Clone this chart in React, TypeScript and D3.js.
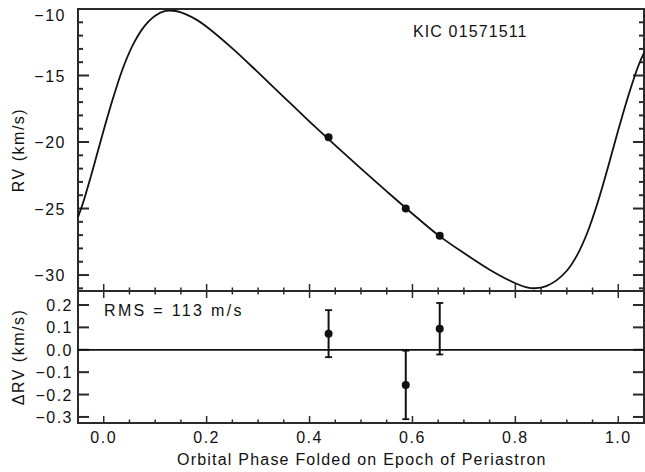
import React, { useRef, useEffect } from 'react'
import * as d3 from 'd3'

// model curve (phase, RV in km/s)
const modelPhase = [-0.05, -0.04, -0.02, 0.0, 0.02, 0.04, 0.06, 0.08, 0.1, 0.12, 0.14, 0.16, 0.18, 0.2, 0.25, 0.3, 0.35, 0.4, 0.45, 0.5, 0.55, 0.6, 0.65, 0.7, 0.75, 0.8, 0.82, 0.84, 0.86, 0.88, 0.9, 0.92, 0.94, 0.96, 0.98, 1.0, 1.02, 1.04, 1.05]
const modelRV = [-25.65, -24.55, -21.9, -19.1, -16.46, -14.17, -12.45, -11.25, -10.5, -10.15, -10.15, -10.4, -10.8, -11.33, -12.96, -14.77, -16.62, -18.46, -20.25, -22.0, -23.71, -25.39, -27.0, -28.35, -29.6, -30.62, -30.9, -30.99, -30.83, -30.4, -29.68, -28.5, -26.8, -24.55, -21.9, -19.1, -16.46, -14.17, -13.3]

// observations
const obsPhase = [0.437, 0.587, 0.653]
const obsRV = [-19.65, -25.0, -27.05]
const residual = [0.072, -0.157, 0.094]
const residualErr = [0.105, 0.153, 0.115]

// axes
const phaseTicks = [0, 0.2, 0.4, 0.6, 0.8, 1.0]
const rvTicks = [-30, -25, -20, -15, -10]
const dRvTicks = [0.2, 0.1, 0.0, -0.1, -0.2, -0.3]

const FONT = '"Liberation Sans", Arial, Helvetica, sans-serif'
const INK = '#111'
const FRAME = '#2a2a2a'

function App() {
    const svgRef = useRef<SVGSVGElement>(null)

    useEffect(() => {
        drawChart()
    }, [])

    const drawChart = () => {
        const svg = d3.select(svgRef.current)
        svg.selectAll('*').remove()

        const left = 78
        const right = 644
        const top = 9
        const mid = 291
        const bottom = 423

        const x = d3.scaleLinear().domain([-0.05, 1.05]).range([left, right])
        const yTop = d3.scaleLinear().domain([-31.2, -10]).range([mid, top])
        const yBot = d3.scaleLinear().domain([-0.327, 0.2625]).range([bottom, mid])

        const minorPhase = d3.range(-0.05, 1.0501, 0.05)
        const minorRV = d3.range(-31, -9.99, 1)

        const g = svg.append('g')

        // x ticks on both sides of the middle line and on the bottom
        minorPhase.forEach(p => {
            const major = phaseTicks.some(t => Math.abs(t - p) < 1e-6)
            const len = major ? 7 : 3.5
            const xx = x(p)
            g.append('line').attr('x1', xx).attr('x2', xx).attr('y1', mid).attr('y2', mid - len)
                .attr('stroke', FRAME).attr('stroke-width', 1.5)
            g.append('line').attr('x1', xx).attr('x2', xx).attr('y1', mid).attr('y2', mid + len)
                .attr('stroke', FRAME).attr('stroke-width', 1.5)
            g.append('line').attr('x1', xx).attr('x2', xx).attr('y1', bottom).attr('y2', bottom - len)
                .attr('stroke', FRAME).attr('stroke-width', 1.5)
        })

        // y ticks of the top panel, left and right
        minorRV.forEach(v => {
            const major = rvTicks.includes(Math.round(v))
            const len = major ? 11 : 5
            const yy = yTop(v)
            g.append('line').attr('x1', left).attr('x2', left + len).attr('y1', yy).attr('y2', yy)
                .attr('stroke', FRAME).attr('stroke-width', 2)
            g.append('line').attr('x1', right).attr('x2', right - len).attr('y1', yy).attr('y2', yy)
                .attr('stroke', FRAME).attr('stroke-width', 2)
        })

        // y ticks of the residual panel
        dRvTicks.forEach(v => {
            const yy = yBot(v)
            g.append('line').attr('x1', left).attr('x2', left + 11).attr('y1', yy).attr('y2', yy)
                .attr('stroke', FRAME).attr('stroke-width', 2)
            g.append('line').attr('x1', right).attr('x2', right - 11).attr('y1', yy).attr('y2', yy)
                .attr('stroke', FRAME).attr('stroke-width', 2)
        })

        // frames
        g.append('rect').attr('x', left).attr('y', top).attr('width', right - left).attr('height', mid - top)
            .attr('fill', 'none').attr('stroke', FRAME).attr('stroke-width', 2)
        g.append('rect').attr('x', left).attr('y', mid).attr('width', right - left).attr('height', bottom - mid)
            .attr('fill', 'none').attr('stroke', FRAME).attr('stroke-width', 2)

        // model curve
        const line = d3.line<number>()
            .x((d, i) => x(modelPhase[i]))
            .y(d => yTop(d))
            .curve(d3.curveCatmullRom.alpha(0.5))

        g.append('path')
            .datum(modelRV)
            .attr('d', line)
            .attr('fill', 'none')
            .attr('stroke', INK)
            .attr('stroke-width', 1.8)

        // RV points
        g.selectAll('.rv-dot')
            .data(obsRV)
            .join('circle')
            .attr('class', 'rv-dot')
            .attr('cx', (d, i) => x(obsPhase[i]))
            .attr('cy', d => yTop(d))
            .attr('r', 4)
            .attr('fill', INK)

        // zero line in the residual panel
        g.append('line')
            .attr('x1', left).attr('x2', right)
            .attr('y1', yBot(0)).attr('y2', yBot(0))
            .attr('stroke', INK).attr('stroke-width', 1.8)

        // residual error bars
        residual.forEach((r, i) => {
            const xx = x(obsPhase[i])
            const y1 = yBot(r + residualErr[i])
            const y2 = yBot(r - residualErr[i])
            g.append('line').attr('x1', xx).attr('x2', xx).attr('y1', y1).attr('y2', y2)
                .attr('stroke', INK).attr('stroke-width', 2)
            g.append('line').attr('x1', xx - 3.5).attr('x2', xx + 3.5).attr('y1', y1).attr('y2', y1)
                .attr('stroke', INK).attr('stroke-width', 1.8)
            g.append('line').attr('x1', xx - 3.5).attr('x2', xx + 3.5).attr('y1', y2).attr('y2', y2)
                .attr('stroke', INK).attr('stroke-width', 1.8)
            g.append('circle').attr('cx', xx).attr('cy', yBot(r)).attr('r', 4).attr('fill', INK)
        })

        const txt = (s: string, tx: number, ty: number, anchor: string) =>
            g.append('text')
                .attr('x', tx)
                .attr('y', ty)
                .attr('text-anchor', anchor)
                .style('font-family', FONT)
                .style('font-size', '16px')
                .style('letter-spacing', '1.5px')
                .style('fill', INK)
                .text(s)

        const fmtMinus = (s: string) => s.replace('-', '\u2212 ')

        // tick labels
        rvTicks.forEach(v => {
            const yy = yTop(v) + (v === -10 ? 12 : 6)
            txt(fmtMinus(d3.format('d')(v)), 66, yy, 'end')
        })
        dRvTicks.forEach(v => {
            txt(fmtMinus(d3.format('.1f')(v)), 73, yBot(v) + 6, 'end')
        })
        phaseTicks.forEach(p => {
            txt(d3.format('.1f')(p), x(p), 443, 'middle')
        })

        // titles and annotations
        txt('KIC 01571511', 413, 37, 'start').attr('textLength', 115).attr('lengthAdjust', 'spacing')
        txt('RMS = 113 m/s', 104, 316, 'start').attr('textLength', 139).attr('lengthAdjust', 'spacing')
        txt('Orbital Phase Folded on Epoch of Periastron', 362, 465, 'middle')
            .attr('textLength', 370).attr('lengthAdjust', 'spacing')

        txt('RV (km/s)', 0, 0, 'middle')
            .attr('transform', 'translate(24, 150) rotate(-90)')
        txt('\u0394RV (km/s)', 0, 0, 'middle')
            .attr('transform', 'translate(24, 357) rotate(-90)')
    }

    return (
        <div style={{ position: 'absolute', left: 0, top: 0 }}>
            <svg ref={svgRef} width={645} height={472} style={{ display: 'block', background: '#fff' }} />
        </div>
    )
}

export default App
